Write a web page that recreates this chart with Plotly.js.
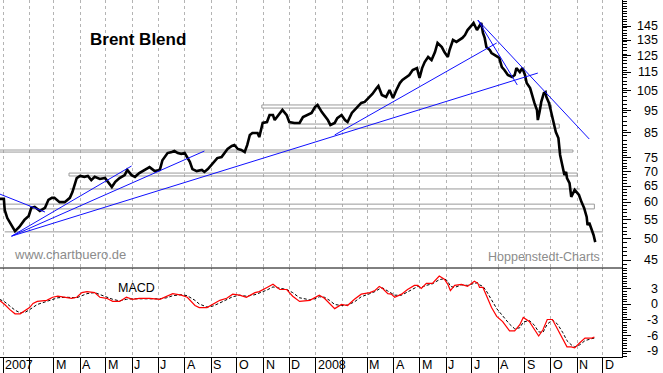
<!DOCTYPE html>
<html><head><meta charset="utf-8">
<script src="https://cdn.plot.ly/plotly-3.0.1.min.js"></script>
<style>html,body{margin:0;padding:0;background:#fff}#chart{width:663px;height:373px}</style>
</head><body><div id="chart"></div>
<script>
// ---- Price (Brent Blend, USD) ----
const priceDates = ['2006-12-28','2007-01-02','2007-01-03','2007-01-06','2007-01-15','2007-01-20','2007-01-26','2007-01-31','2007-02-03','2007-02-07','2007-02-13','2007-02-19',
'2007-02-23','2007-02-27','2007-03-02','2007-03-08','2007-03-14','2007-03-20','2007-03-23','2007-03-28','2007-04-01','2007-04-06','2007-04-10','2007-04-14',
'2007-04-18','2007-04-24','2007-04-30','2007-05-03','2007-05-08','2007-05-12','2007-05-17','2007-05-23','2007-05-26','2007-05-31','2007-06-04','2007-06-09',
'2007-06-15','2007-06-21','2007-06-27','2007-07-03','2007-07-06','2007-07-12','2007-07-17','2007-07-20','2007-07-24','2007-07-28','2007-08-01','2007-08-04',
'2007-08-07','2007-08-10','2007-08-15','2007-08-21','2007-08-24','2007-08-28','2007-09-01','2007-09-05','2007-09-08','2007-09-13','2007-09-17','2007-09-20',
'2007-09-25','2007-09-28','2007-10-02','2007-10-06','2007-10-10','2007-10-13','2007-10-16','2007-10-19','2007-10-25','2007-10-27','2007-10-31','2007-11-05',
'2007-11-08','2007-11-12','2007-11-14','2007-11-20','2007-11-23','2007-11-28','2007-12-01','2007-12-07','2007-12-13','2007-12-17','2007-12-22','2007-12-27',
'2007-12-31','2008-01-03','2008-01-08','2008-01-11','2008-01-15','2008-01-18','2008-01-23','2008-01-26','2008-01-31','2008-02-04','2008-02-07','2008-02-12',
'2008-02-15','2008-02-19','2008-02-23','2008-02-27','2008-03-04','2008-03-07','2008-03-12','2008-03-14','2008-03-18','2008-03-23','2008-03-27','2008-03-31',
'2008-04-04','2008-04-08','2008-04-11','2008-04-16','2008-04-19','2008-04-23','2008-04-28','2008-05-01','2008-05-04','2008-05-07','2008-05-11','2008-05-15',
'2008-05-19','2008-05-22','2008-05-27','2008-05-30','2008-06-03','2008-06-05','2008-06-09','2008-06-13','2008-06-17','2008-06-20','2008-06-23','2008-06-26',
'2008-07-01','2008-07-03','2008-07-07','2008-07-10','2008-07-12','2008-07-14','2008-07-16','2008-07-18','2008-07-22','2008-07-24','2008-07-28','2008-07-31',
'2008-08-02','2008-08-05','2008-08-08','2008-08-12','2008-08-17','2008-08-20','2008-08-22','2008-08-26','2008-08-29','2008-09-01','2008-09-03','2008-09-07',
'2008-09-10','2008-09-12','2008-09-15','2008-09-16','2008-09-18','2008-09-20','2008-09-23','2008-09-25','2008-09-26','2008-09-29','2008-10-01','2008-10-05',
'2008-10-07','2008-10-10','2008-10-12','2008-10-14','2008-10-17','2008-10-19','2008-10-20','2008-10-23','2008-10-25','2008-10-29','2008-10-31','2008-11-01',
'2008-11-03','2008-11-06','2008-11-09','2008-11-12','2008-11-13','2008-11-15','2008-11-18','2008-11-20','2008-11-22'];
const priceValues = [61.1,61.1,57.8,55.5,52.0,53.1,55.0,56.1,58.4,58.7,57.5,58.4,
60.8,61.4,61.4,60.1,60.1,61.4,63.2,67.8,68.5,68.2,68.5,67.1,
68.2,67.5,67.8,66.5,64.8,66.5,67.8,68.8,70.6,68.8,68.2,69.5,
70.6,71.6,70.2,70.6,74.1,76.8,77.2,77.6,76.8,76.5,76.8,74.9,
73.5,70.9,70.2,70.6,69.9,70.9,72.4,73.5,74.9,75.3,77.2,78.4,
79.6,80.0,78.4,78.0,77.2,80.0,84.1,84.9,84.9,83.2,89.3,89.7,
92.9,92.9,90.6,93.9,95.3,92.9,89.7,89.3,89.3,92.0,92.9,93.9,
96.7,97.7,94.3,92.9,90.6,88.4,89.3,91.5,92.9,90.6,89.7,93.9,
95.3,96.7,98.7,99.2,101.7,103.2,106.3,107.4,102.7,101.7,105.3,101.2,
105.3,109.0,110.7,112.4,113.5,116.4,117.5,111.8,117.5,121.1,124.2,122.3,
127.3,133.2,130.5,127.3,124.2,128.6,135.2,133.9,135.2,136.6,138.6,142.1,
145.7,147.2,142.1,145.7,147.2,140.0,136.6,130.5,128.6,126.7,125.4,124.2,
123.6,118.1,116.4,113.5,112.4,113.5,117.5,115.2,117.5,113.5,109.0,106.3,
101.2,98.7,95.3,90.6,94.3,99.2,103.7,104.2,101.7,98.7,95.3,88.4,
85.3,82.8,76.1,73.1,68.8,69.9,67.8,66.1,61.7,63.9,63.2,63.2,
62.3,60.1,58.4,55.8,53.6,54.2,52.3,51.0,49.2];

// ---- MACD and signal ----
const macdDates = ['2006-12-28','2007-01-03','2007-01-09','2007-01-15','2007-01-21','2007-01-27','2007-02-01','2007-02-05','2007-02-10','2007-02-21','2007-02-28','2007-03-06',
'2007-03-16','2007-03-22','2007-03-28','2007-04-03','2007-04-09','2007-04-18','2007-04-24','2007-05-02','2007-05-09','2007-05-17','2007-05-25','2007-06-01',
'2007-06-09','2007-06-21','2007-07-03','2007-07-11','2007-07-18','2007-07-28','2007-08-04','2007-08-13','2007-08-18','2007-08-27','2007-09-03','2007-09-11',
'2007-09-19','2007-09-26','2007-10-04','2007-10-12','2007-10-22','2007-10-27','2007-11-05','2007-11-12','2007-11-20','2007-11-28','2007-12-05','2007-12-13',
'2007-12-25','2007-12-31','2008-01-05','2008-01-11','2008-01-17','2008-01-23','2008-01-31','2008-02-07','2008-02-15','2008-02-23','2008-03-04','2008-03-10',
'2008-03-15','2008-03-19','2008-03-25','2008-03-29','2008-04-02','2008-04-10','2008-04-17','2008-04-25','2008-04-29','2008-05-03','2008-05-09','2008-05-16',
'2008-05-24','2008-05-30','2008-06-03','2008-06-06','2008-06-11','2008-06-19','2008-06-26','2008-07-04','2008-07-08','2008-07-10','2008-07-14','2008-07-18',
'2008-07-24','2008-07-30','2008-08-06','2008-08-14','2008-08-20','2008-08-26','2008-08-30','2008-09-06','2008-09-12','2008-09-17','2008-09-22','2008-09-27',
'2008-10-03','2008-10-09','2008-10-15','2008-10-20','2008-10-25','2008-10-29','2008-11-04','2008-11-10','2008-11-18','2008-11-21'];
const macdValues = [0.8,0,-1.0,-1.8,-1.8,-1.2,-0.6,0.2,0.6,0.8,1.4,1.6,
1.4,1.2,1.4,2.3,2.5,2.3,1.4,1.2,0.6,0.6,1.4,1.0,
1.2,1.2,1.0,1.6,2.1,1.8,1.4,-0.2,-0.6,-0.6,0,0.8,
1.2,2.0,1.8,1.4,2.3,2.5,3.3,3.9,2.9,2.9,1.6,0.6,
0.8,1.4,1.8,1.2,0.2,-0.8,0,-0.2,1.0,2.0,2.3,2.7,
3.5,3.1,2.1,2.0,1.4,2.0,2.9,3.7,3.7,3.1,4.1,4.1,
5.5,4.9,3.9,2.7,3.7,3.9,3.5,4.5,4.1,3.3,3.3,1.6,
-0.6,-2.3,-3.3,-5.1,-5.1,-3.9,-2.5,-3.3,-4.9,-6.1,-4.9,-2.9,
-2.9,-4.7,-6.5,-8.2,-8.2,-8.4,-7.4,-6.5,-6.5,-6.3];
const signalValues = [1.0,0.5,-0.3,-1.1,-1.6,-1.5,-1.0,-0.5,0,0.6,1.0,1.3,
1.4,1.3,1.3,1.7,2.1,2.3,1.9,1.5,1.0,0.7,1.0,1.1,
1.1,1.2,1.1,1.3,1.7,1.9,1.7,0.8,0.1,-0.5,-0.3,0.3,
0.9,1.5,1.8,1.6,1.9,2.2,2.8,3.4,3.2,2.9,2.3,1.3,
0.9,1.1,1.5,1.4,0.8,0,-0.2,-0.1,0.5,1.5,2.1,2.5,
3.0,3.2,2.6,2.2,1.8,1.8,2.4,3.2,3.5,3.3,3.7,4.0,
4.8,5.0,4.5,3.5,3.3,3.8,3.7,4.1,4.2,3.8,3.5,2.6,
1.0,-0.8,-2.2,-3.8,-4.7,-4.5,-3.4,-3.1,-4.0,-5.3,-5.4,-3.8,
-3.0,-3.8,-5.4,-7.0,-7.8,-8.2,-7.8,-7.0,-6.6,-6.5];

// ---- axis labels ----
const monthTicks = ['2007-01-01','2007-02-01','2007-03-01','2007-04-01','2007-05-01','2007-06-01','2007-07-01','2007-08-01','2007-09-01','2007-10-01','2007-11-01','2007-12-01',
'2008-01-01','2008-02-01','2008-03-01','2008-04-01','2008-05-01','2008-06-01','2008-07-01','2008-08-01','2008-09-01','2008-10-01','2008-11-01','2008-12-01'];
const monthLabels = ['2007','','M','A','M','J','J','A','S','O','N','D','2008','','M','A','M','J','J','A','S','O','N','D'];
const priceTickValues = [145,135,125,115,105,95,85,75,70,65,60,55,50,45];
const macdTickValues = [3,0,-3,-6,-9];

// ---- chart annotations drawn on the price (support bands, levels, trendlines) ----
const bandStart = ['2006-12-28','2007-03-19','2006-12-28','2007-10-30','2007-12-01'];
const bandEnd   = ['2008-10-27','2008-11-01','2008-11-21','2008-10-02','2008-10-11'];
const bandTop   = [78.0,69.5,59.5,97.7,88.8];
const bandBottom= [77.2,68.5,58.1,96.2,87.0];
const levelStart = ['2007-03-20','2007-01-03'];
const levelEnd   = ['2008-11-04','2008-12-01'];
const levelValue = [64.2,51.8];
const trendStartDate = ['2006-12-28','2007-01-11','2007-01-11','2007-01-11','2008-01-23','2008-07-08','2008-07-08'];
const trendStartValue= [62.6,50.7,50.7,50.7,84.1,149.4,149.4];
const trendEndDate   = ['2007-02-19','2007-05-31','2007-08-24','2008-09-16','2008-07-30','2008-11-15','2008-08-23'];
const trendEndValue  = [57.2,72.0,77.6,114.6,133.2,82.4,108.0];

// build helper traces
const bx=[],by=[];
for(let i=0;i<bandStart.length;i++){
  bx.push(bandStart[i],bandEnd[i],bandEnd[i],bandStart[i],bandStart[i],null);
  by.push(bandTop[i],bandTop[i],bandBottom[i],bandBottom[i],bandTop[i],null);
}
for(let i=0;i<levelStart.length;i++){
  bx.push(levelStart[i],levelEnd[i],null);
  by.push(levelValue[i],levelValue[i],null);
}
const tx=[],ty=[];
for(let i=0;i<trendStartDate.length;i++){
  tx.push(trendStartDate[i],trendEndDate[i],null);
  ty.push(trendStartValue[i],trendEndValue[i],null);
}

const minorPrice=[];
for(let v=44;v<80;v++){ if(!priceTickValues.includes(v)) minorPrice.push(v); }
for(let v=80;v<=164;v+=2){ if(!priceTickValues.includes(v)) minorPrice.push(v); }
const minorMacd=[];
for(let v=-10;v<=7;v+=0.5){ if(!macdTickValues.includes(v)) minorMacd.push(v); }

const split = 1 - 268/357;
const FONT = 'Liberation Sans, Arial, sans-serif';

const traces = [
  {x:bx,y:by,type:'scatter',mode:'lines',line:{color:'#9a9a9a',width:1},connectgaps:false,xaxis:'x',yaxis:'y',hoverinfo:'skip'},
  {x:priceDates,y:priceValues,type:'scatter',mode:'lines',line:{color:'#000',width:2.6},xaxis:'x',yaxis:'y'},
  {x:tx,y:ty,type:'scatter',mode:'lines',line:{color:'#1010ff',width:1},connectgaps:false,xaxis:'x',yaxis:'y',hoverinfo:'skip'},
  {x:macdDates,y:signalValues,type:'scatter',mode:'lines',line:{color:'#000',width:1,dash:'3px,2px'},xaxis:'x',yaxis:'y2'},
  {x:macdDates,y:macdValues,type:'scatter',mode:'lines',line:{color:'#ff0000',width:1.2},xaxis:'x',yaxis:'y2'}
];

const annotations = [];
priceTickValues.forEach(v=>annotations.push({xref:'paper',yref:'y',x:1.0611,y:Math.log10(v),text:String(v),showarrow:false,xanchor:'right',yanchor:'middle',font:{family:FONT,size:12.5,color:'#000'}}));
macdTickValues.forEach(v=>annotations.push({xref:'paper',yref:'y2',x:1.0611,y:v,text:String(v),showarrow:false,xanchor:'right',yanchor:'middle',font:{family:FONT,size:12.5,color:'#000'}}));
monthTicks.forEach((d,i)=>{ if(monthLabels[i]) annotations.push({xref:'x',yref:'paper',x:d,y:-0.0238,text:monthLabels[i],showarrow:false,xanchor:'left',yanchor:'middle',xshift:0,font:{family:FONT,size:12.5,color:'#000'}}); });
annotations.push({xref:'paper',yref:'paper',x:88/622,y:1-39/357,text:'<b>Brent Blend</b>',showarrow:false,xanchor:'left',yanchor:'middle',font:{family:FONT,size:17,color:'#000'}});
annotations.push({xref:'paper',yref:'paper',x:12/622,y:1-254/357,text:'www.chartbuero.de',showarrow:false,xanchor:'left',yanchor:'middle',font:{family:FONT,size:13,color:'#8c8c8c'}});
annotations.push({xref:'paper',yref:'paper',x:486/622,y:1-257/357,text:'Hoppenstedt-Charts',showarrow:false,xanchor:'left',yanchor:'middle',font:{family:FONT,size:12.5,color:'#8c8c8c'}});
annotations.push({xref:'paper',yref:'paper',x:116/622,y:1-287.5/357,text:'MACD',showarrow:false,xanchor:'left',yanchor:'middle',font:{family:FONT,size:12.5,color:'#000'}});

const layout = {
  width:663,height:373,margin:{l:0,r:41,t:0,b:16,pad:0},
  paper_bgcolor:'#fff',plot_bgcolor:'#fff',showlegend:false,
  font:{family:FONT,size:12,color:'#000'},
  xaxis:{type:'date',range:['2006-12-28 12:00','2008-12-23 05:00'],tickmode:'array',tickvals:monthTicks,showticklabels:false,
    ticks:'outside',ticklen:16,tickcolor:'#000',tickwidth:1,showgrid:true,gridcolor:'#b4b4b4',griddash:'3px,3px',gridwidth:1,
    showline:true,linecolor:'#000',linewidth:1,zeroline:false,anchor:'y2',fixedrange:true},
  yaxis:{type:'log',domain:[split,1],range:[1.63584,2.21783],side:'right',anchor:'x',showline:true,linecolor:'#000',linewidth:1,
    ticks:'outside',tickmode:'array',tickvals:priceTickValues,ticklen:8,tickcolor:'#000',showticklabels:false,showgrid:false,zeroline:false,
    minor:{tickmode:'array',tickvals:minorPrice,ticks:'outside',ticklen:4,tickcolor:'#000',showgrid:false}},
  yaxis2:{domain:[0,split],range:[-10.16,7.06],side:'right',anchor:'x',showline:true,linecolor:'#000',linewidth:1,
    ticks:'outside',tickmode:'array',tickvals:macdTickValues,ticklen:8,tickcolor:'#000',showticklabels:false,showgrid:false,zeroline:false,
    minor:{tickmode:'array',tickvals:minorMacd,ticks:'outside',ticklen:4,tickcolor:'#000',showgrid:false}},
  shapes:[{type:'line',xref:'paper',yref:'paper',x0:0,x1:1,y0:split,y1:split,line:{color:'#000',width:1}}],
  annotations:annotations
};
Plotly.newPlot('chart',traces,layout,{staticPlot:true,displayModeBar:false});
</script></body></html>
